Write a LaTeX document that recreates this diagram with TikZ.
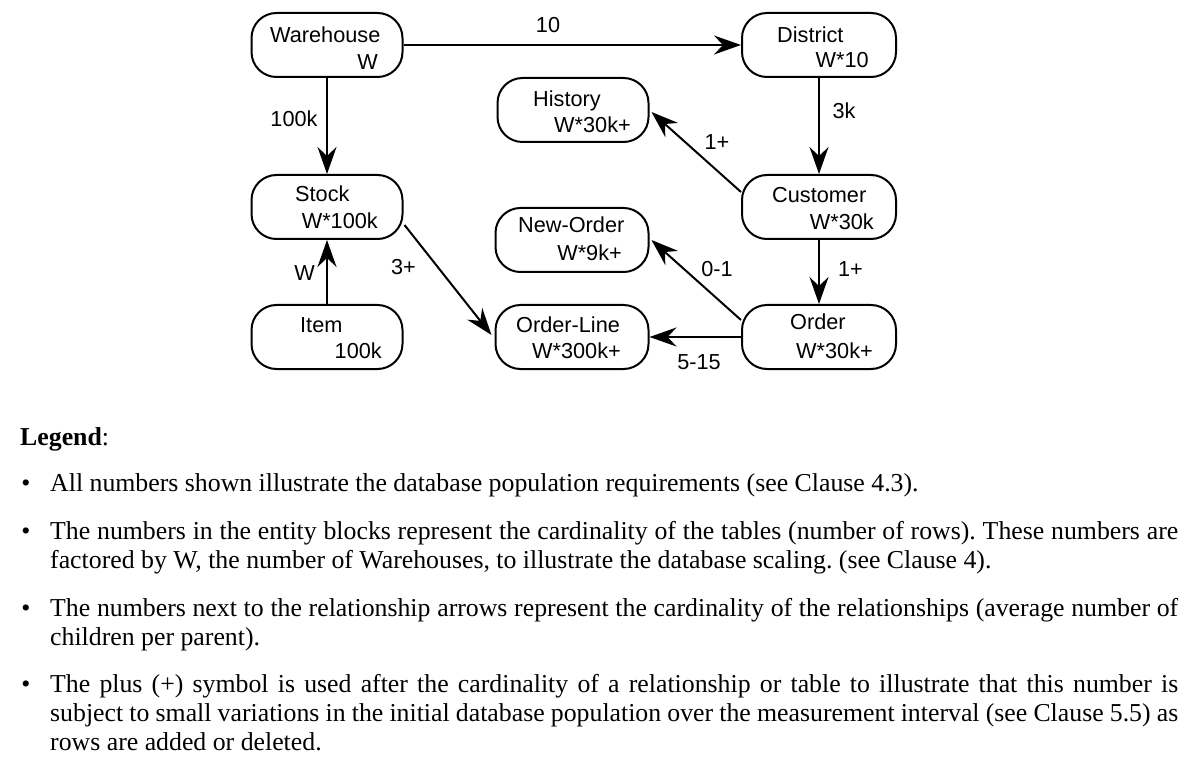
\documentclass[tikz,border=0pt]{standalone}
\usepackage{fontspec}
\setmainfont{Liberation Serif}
\newfontfamily\diagfont{Liberation Sans}
\usetikzlibrary{arrows.meta,calc}
\begin{document}
\frenchspacing
\begin{tikzpicture}[x=1pt,y=-1pt,
  entity/.style={draw, line width=2pt, rounded corners=25pt, inner sep=0pt},
  lbl/.style={font=\diagfont\fontsize{21.7}{24}\selectfont, inner sep=0pt},
  rel/.style={line width=2pt, -{Stealth[length=27pt,width=19pt,inset=9pt]}},
  legtxt/.style={font=\fontsize{25.8}{29}\selectfont, inner sep=0pt, anchor=base west},
  bul/.style={font=\fontsize{25.8}{29}\selectfont, inner sep=0pt, anchor=base}
]
\useasboundingbox (0,0) rectangle (1196,775);

% entity boxes
\node[entity, minimum width=151pt, minimum height=64pt] (wh) at (327,45) {};
\node[entity, minimum width=154pt, minimum height=64pt] (di) at (819,45) {};
\node[entity, minimum width=151pt, minimum height=64pt] (hi) at (573,110) {};
\node[entity, minimum width=151pt, minimum height=64pt] (st) at (327,207) {};
\node[entity, minimum width=154pt, minimum height=64pt] (cu) at (819,207) {};
\node[entity, minimum width=153pt, minimum height=64pt] (no) at (572,240) {};
\node[entity, minimum width=151pt, minimum height=64pt] (it) at (327,337) {};
\node[entity, minimum width=153pt, minimum height=64pt] (ol) at (572,337) {};
\node[entity, minimum width=154pt, minimum height=64pt] (or) at (819,337) {};

% entity texts
\node[lbl, anchor=base west] (whA) at (270,43) {Warehouse};
\node[lbl, anchor=base east] (whB) at (378,70) {W};
\node[lbl, anchor=base west] (diA) at (777,43) {District};
\node[lbl, anchor=base east] (diB) at (869,68) {W*10};
\node[lbl, anchor=base west] (hiA) at (533,107) {History};
\node[lbl, anchor=base east] (hiB) at (631,133) {W*30k+};
\node[lbl, anchor=base west] (stA) at (295,202) {Stock};
\node[lbl, anchor=base east] (stB) at (378,229) {W*100k};
\node[lbl, anchor=base west] (cuA) at (772,203) {Customer};
\node[lbl, anchor=base east] (cuB) at (874,230) {W*30k};
\node[lbl, anchor=base west] (noA) at (518,233) {New-Order};
\node[lbl, anchor=base east] (noB) at (622,261) {W*9k+};
\node[lbl, anchor=base west] (itA) at (300,333) {Item};
\node[lbl, anchor=base east] (itB) at (382,358) {100k};
\node[lbl, anchor=base west] (olA) at (516,333) {Order-Line};
\node[lbl, anchor=base east] (olB) at (621,359) {W*300k+};
\node[lbl, anchor=base west] (orA) at (790,330) {Order};
\node[lbl, anchor=base east] (orB) at (873,358) {W*30k+};

% relationships
\draw[rel] (wh.east) -- (wh.east -| di.west);
\draw[rel] (wh.south) -- (st.north);
\draw[rel] (di.south) -- (cu.north);
\draw[rel] ($(cu.west)+(0,-15)$) -- ($(hi.east)+(2,2)$);
\draw[rel] (cu.south) -- (or.north);
\draw[rel] ($(or.west)+(0,-17)$) -- ($(no.east)+(2,0)$);
\draw[rel] (or.west) -- (or.west -| ol.east);
\draw[rel] (it.north) -- (st.south);
\draw[rel] ($(st.east)+(1,18)$) -- ($(ol.west)+(-3,-2)$);

% relationship labels
\node[lbl, anchor=base] (r1) at (548,33) {10};
\node[lbl, anchor=base] (r2) at (294,127) {100k};
\node[lbl, anchor=base] (r3) at (844,119) {3k};
\node[lbl, anchor=base] (r4) at (717,150) {1+};
\node[lbl, anchor=base] (r5) at (304.5,281) {W};
\node[lbl, anchor=base] (r6) at (403.5,275) {3+};
\node[lbl, anchor=base] (r7) at (717,277) {0-1};
\node[lbl, anchor=base] (r8) at (850.5,277) {1+};
\node[lbl, anchor=base] (r9) at (699,369) {5-15};

% legend
\node[legtxt] (lg) at (20,445) {\textbf{Legend}:};
\node[bul] (b1) at (26,491) {\textbullet};
\node[legtxt] (l1) at (50,491) {All numbers shown illustrate the database population requirements (see Clause 4.3).};
\node[bul] (b2) at (26,539) {\textbullet};
\node[legtxt] (l2) at (50,539) {\makebox[1128pt][s]{The numbers in the entity blocks represent the cardinality of the tables (number of rows). These numbers are}};
\node[legtxt] (l3) at (50,568) {factored by W, the number of Warehouses, to illustrate the database scaling. (see Clause 4).};
\node[bul] (b3) at (26,616) {\textbullet};
\node[legtxt] (l4) at (50,616) {\makebox[1128pt][s]{The numbers next to the relationship arrows represent the cardinality of the relationships (average number of}};
\node[legtxt] (l5) at (50,645) {children per parent).};
\node[bul] (b4) at (26,692) {\textbullet};
\node[legtxt] (l6) at (50,692) {\makebox[1128pt][s]{The plus (+) symbol is used after the cardinality of a relationship or table to illustrate that this number is}};
\node[legtxt] (l7) at (50,721) {\makebox[1128pt][s]{subject to small variations in the initial database population over the measurement interval (see Clause 5.5) as}};
\node[legtxt] (l8) at (50,750) {rows are added or deleted.};
\end{tikzpicture}
\end{document}
